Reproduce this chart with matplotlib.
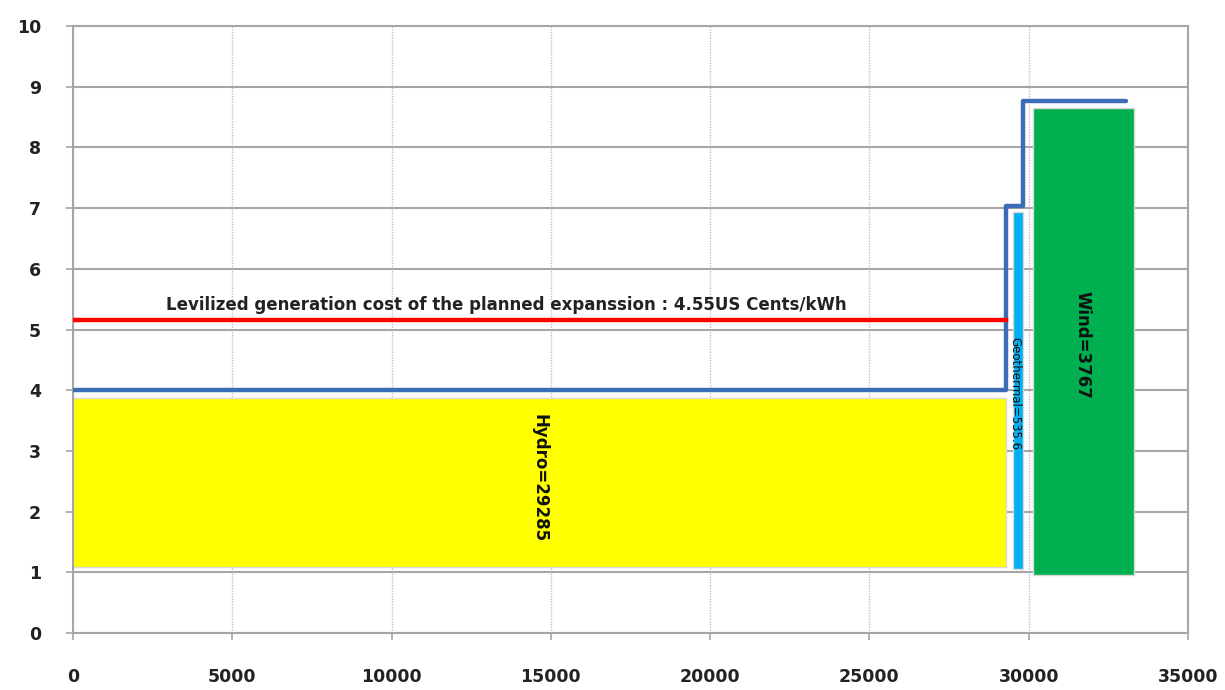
import matplotlib
matplotlib.use("Agg")
import matplotlib.pyplot as plt

# Data
bar_names = ["Hydro", "Geothermal", "Wind"]
bar_labels = ["Hydro=29285", "Geothermal=535.6", "Wind=3767"]
bar_left = [0, 29500, 30150]
bar_width = [29285, 320, 3150]
bar_bottom = [1.08, 1.05, 0.95]
bar_top = [3.87, 6.94, 8.65]
bar_colors = ["#ffff00", "#00b0f0", "#00b050"]

step_x = [0, 29285, 29285, 29820, 29820, 33050]
step_y = [4.0, 4.0, 7.03, 7.03, 8.76, 8.76]

levelized_cost = 5.16
levelized_x_end = 29285
levelized_text = "Levilized generation cost of the planned expanssion : 4.55US Cents/kWh"

x_ticks = [0, 5000, 10000, 15000, 20000, 25000, 30000, 35000]
y_ticks = list(range(0, 11))

fig = plt.figure(figsize=(12.25, 6.9), dpi=100)
ax = fig.add_axes([0.0596, 0.0826, 0.9102, 0.8797])

ax.set_xlim(0, 35000)
ax.set_ylim(0, 10)
ax.set_xticks(x_ticks)
ax.set_yticks(y_ticks)

ax.grid(axis="y", color="#a6a6a6", linewidth=1.5, linestyle="-", zorder=0)
ax.grid(axis="x", color="#c0c0c0", linewidth=1.0, linestyle=(0, (1, 1)), zorder=0)
ax.set_axisbelow(True)

for s in ax.spines.values():
    s.set_color("#a6a6a6")
    s.set_linewidth(1.5)

ax.tick_params(axis="both", length=5, color="#a6a6a6", width=1.2,
               labelsize=12.5, labelcolor="#222222")
ax.tick_params(axis="x", pad=20)
ax.tick_params(axis="y", pad=18)
for lab in ax.get_xticklabels() + ax.get_yticklabels():
    lab.set_fontweight("bold")
    lab.set_family("DejaVu Sans")

for i in range(len(bar_names)):
    ax.bar(bar_left[i], bar_top[i] - bar_bottom[i], width=bar_width[i],
           bottom=bar_bottom[i], align="edge", color=bar_colors[i],
           edgecolor="#d9d9d9", linewidth=1.0, zorder=2)

ax.plot(step_x, step_y, color="#3a6db5", linewidth=3.2, zorder=3,
        solid_joinstyle="round", solid_capstyle="round")

ax.plot([0, levelized_x_end], [levelized_cost, levelized_cost],
        color="#ff0000", linewidth=3.2, zorder=3)

ax.text(13590, levelized_cost + 0.1, levelized_text, ha="center", va="bottom",
        fontsize=12, color="#222222",
        fontfamily=["Liberation Sans Narrow", "DejaVu Sans"],
        fontweight="bold", zorder=4)

# Bar labels
ax.text(14650, 2.55, bar_labels[0], rotation=-90, ha="center", va="center",
        fontsize=12, fontweight="bold", color="#111111", zorder=4)
ax.text(29570, 3.95, bar_labels[1], rotation=-90, ha="center", va="center",
        fontsize=8.5, color="#111111", zorder=4)
ax.text(31700, 4.75, bar_labels[2], rotation=-90, ha="center", va="center",
        fontsize=12, fontweight="bold", color="#111111", zorder=4)

fig.savefig("out.png", dpi=100)
